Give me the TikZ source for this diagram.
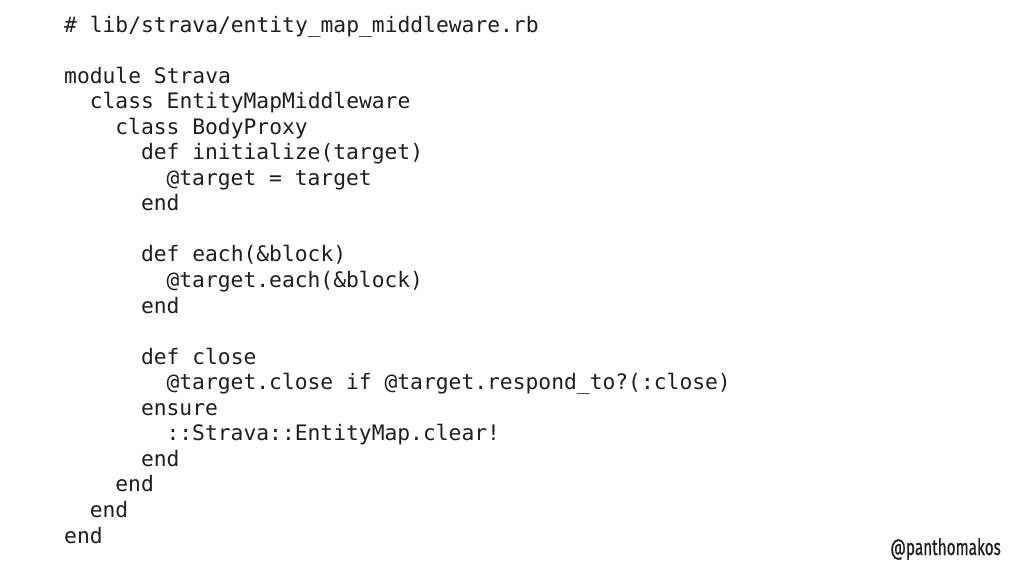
\documentclass[tikz,border=0pt]{standalone}
\usepackage{fontspec}
\setmonofont{DejaVu Sans Mono}
\newfontfamily\handlefont[FakeStretch=0.68,FakeBold=0.6]{Fira Sans}
\definecolor{codeink}{HTML}{1E1E1E}
\begin{document}
\begin{tikzpicture}[x=1pt,y=-1pt,
  codeline/.style={anchor=base west,inner sep=0pt,font=\ttfamily\fontsize{21.3}{25}\selectfont,text=codeink},
  handle/.style={anchor=base east,inner sep=0pt,font=\handlefont\fontsize{22.5}{26}\selectfont,text=codeink}]
\useasboundingbox (0,0) rectangle (1024,576);
\def\lh{25.55}
\node[codeline] (l0) at (64,32) {\# lib/strava/entity\_map\_middleware.rb};
\node[codeline] (l2) at (64,32+2*\lh) {module Strava};
\node[codeline] (l3) at (64+2*12.8,32+3*\lh) {class EntityMapMiddleware};
\node[codeline] (l4) at (64+4*12.8,32+4*\lh) {class BodyProxy};
\node[codeline] (l5) at (64+6*12.8,32+5*\lh) {def initialize(target)};
\node[codeline] (l6) at (64+8*12.8,32+6*\lh) {@target = target};
\node[codeline] (l7) at (64+6*12.8,32+7*\lh) {end};
\node[codeline] (l9) at (64+6*12.8,32+9*\lh) {def each(\&block)};
\node[codeline] (l10) at (64+8*12.8,32+10*\lh) {@target.each(\&block)};
\node[codeline] (l11) at (64+6*12.8,32+11*\lh) {end};
\node[codeline] (l13) at (64+6*12.8,32+13*\lh) {def close};
\node[codeline] (l14) at (64+8*12.8,32+14*\lh) {@target.close if @target.respond\_to?(:close)};
\node[codeline] (l15) at (64+6*12.8,32+15*\lh) {ensure};
\node[codeline] (l16) at (64+8*12.8,32+16*\lh) {::Strava::EntityMap.clear!};
\node[codeline] (l17) at (64+6*12.8,32+17*\lh) {end};
\node[codeline] (l18) at (64+4*12.8,32+18*\lh) {end};
\node[codeline] (l19) at (64+2*12.8,32+19*\lh) {end};
\node[codeline] (l20) at (64,32+20*\lh) {end};
\node[handle] (h) at (1001,555) {@panthomakos};
\end{tikzpicture}
\end{document}
